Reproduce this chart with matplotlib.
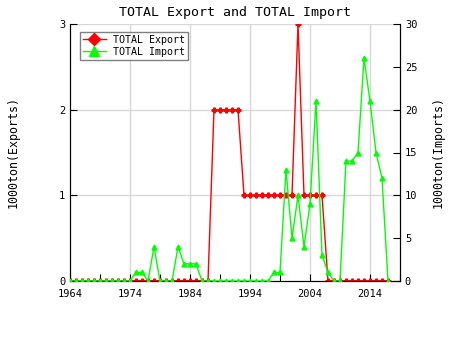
import numpy as np
import matplotlib.pyplot as plt
from matplotlib.lines import Line2D

years = list(range(1964, 2018))

# 1000 ton
exports = [0] * 24 + [2, 2, 2, 2, 2] + [1] * 9 + [3, 1, 1, 1, 1] + [0] * 11
imports = ([0] * 11 + [1, 1, 0, 4, 0, 0, 0, 4, 2, 2, 2, 0]
           + [0] * 11 + [1, 1, 13, 5, 10, 4, 9, 21, 3, 1, 0, 0,
                         14, 14, 15, 26, 21, 15, 12, 0])

title = "TOTAL Export and TOTAL Import"
x_ticks = list(range(1964, 2020, 5))
x_labels = [str(y) if (y - 1964) % 10 == 0 else "" for y in x_ticks]

plt.rcParams["font.family"] = ["DejaVu Sans Mono"]

fig = plt.figure(figsize=(4.5, 3.5), dpi=100)
ax = fig.add_axes([70 / 450, 69 / 350, 330 / 450, 257 / 350])
ax2 = ax.twinx()

ax.plot(years, exports, color="#ff0000", lw=1, marker="P", ms=3.5,
        mec="#ff0000", zorder=2)
ax2.plot(years, imports, color="#00ff00", lw=1, marker="^", ms=3.5,
         mec="#00ff00", zorder=3)
# keep import on top of export
ax.set_zorder(0)
ax2.set_zorder(1)
ax2.patch.set_visible(False)

ax.set_xlim(1964, 2019)
ax.set_ylim(0, 3)
ax2.set_ylim(0, 30)

ax.set_xticks(x_ticks)
ax.set_xticklabels(x_labels, fontsize=7.5)
ax.set_yticks([0, 1, 2, 3])
ax.tick_params(axis="y", labelsize=7.5, direction="in", length=5)
ax.tick_params(axis="x", direction="in", length=5, pad=6)
ax2.set_yticks(range(0, 31, 5))
ax2.tick_params(axis="y", labelsize=7.5, direction="in", length=5)

for y in [1, 2, 3]:
    ax.axhline(y, color="#d8d8d8", lw=1, zorder=0)
for x in range(1974, 2019, 10):
    ax.axvline(x, color="#d8d8d8", lw=1, zorder=0)

for a in (ax, ax2):
    a.spines["top"].set_visible(False)

ax.set_ylabel("1000ton(Exports)", fontsize=8.4, labelpad=28)
ax2.set_ylabel("1000ton(Imports)", fontsize=8.4, labelpad=10)
ax2.yaxis.label.set_rotation(90)
ax.set_title(title, fontsize=9.5, pad=6)

handles = [
    Line2D([], [], color="#ff0000", marker="D", ms=6, lw=1),
    Line2D([], [], color="#00ff00", marker="^", ms=7, lw=1),
]
leg = ax2.legend(handles, ["TOTAL Export", "TOTAL Import"], loc="upper left",
                 bbox_to_anchor=(0.015, 0.99), fontsize=7.2, frameon=True,
                 fancybox=False, edgecolor="#606060", handlelength=2.3,
                 borderpad=0.3, labelspacing=0.2, handletextpad=0.7)
leg.get_frame().set_linewidth(1)

fig.savefig("out.png", dpi=100)
